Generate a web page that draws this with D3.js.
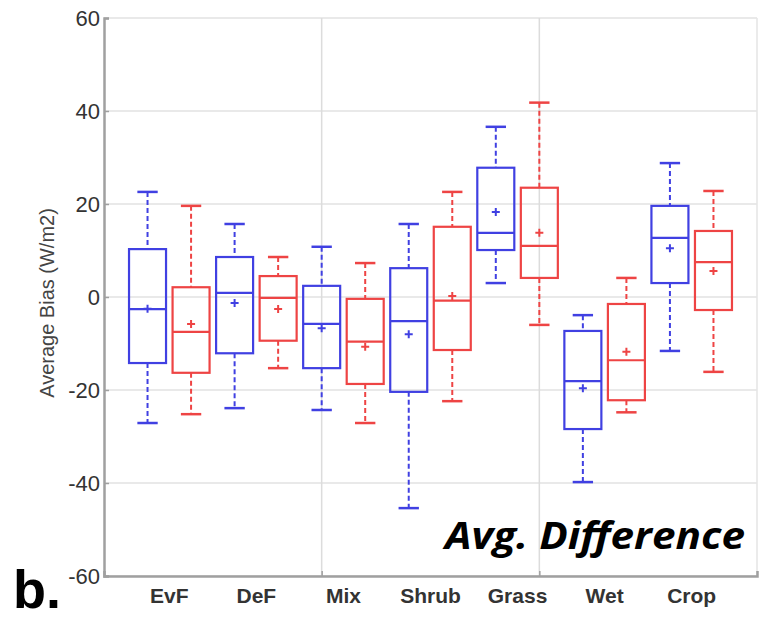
<!DOCTYPE html>
<html>
<head>
<meta charset="utf-8">
<script src="https://cdnjs.cloudflare.com/ajax/libs/d3/7.8.5/d3.min.js"></script>
<style>
  body { margin: 0; background: #fff; }
  svg { display: block; }
</style>
</head>
<body>
<svg id="chart" width="769" height="620"></svg>
<script>
// land cover classes, each has a blue and a red box
const categories = ['EvF', 'DeF', 'Mix', 'Shrub', 'Grass', 'Wet', 'Crop'];
const yTicks = [-60, -40, -20, 0, 20, 40, 60];

// blue series
const blueHi     = [22.6, 15.7, 10.8, 15.7, 36.6, -3.9, 28.8];
const blueQ3     = [10.3, 8.6, 2.4, 6.2, 27.8, -7.3, 19.6];
const blueMedian = [-2.6, 0.9, -5.8, -5.2, 13.8, -18.1, 12.7];
const blueQ1     = [-14.2, -12.1, -15.3, -20.4, 10.1, -28.4, 3.0];
const blueLo     = [-27.1, -23.9, -24.3, -45.4, 3.0, -39.8, -11.6];
const blueMean   = [-2.5, -1.3, -6.7, -8.0, 18.3, -19.6, 10.5];

// red series
const redHi     = [19.6, 8.6, 7.3, 22.6, 41.8, 4.1, 22.8];
const redQ3     = [2.1, 4.5, -0.4, 15.1, 23.5, -1.5, 14.2];
const redMedian = [-7.5, -0.2, -9.6, -0.8, 11.0, -13.6, 7.5];
const redQ1     = [-16.3, -9.4, -18.7, -11.4, 4.1, -22.2, -2.8];
const redLo     = [-25.2, -15.3, -27.1, -22.4, -6.0, -24.8, -16.1];
const redMean   = [-5.8, -2.6, -10.7, 0.2, 13.8, -11.8, 5.6];

const blue = '#4040e2';
const red = '#ee4444';

const svg = d3.select('#chart');
const plotLeft = 104, plotRight = 757, plotTop = 18, plotBottom = 576;

const x = d3.scaleLinear().domain([0, 15]).range([plotLeft, plotRight]);
const y = d3.scaleLinear().domain([-60, 60]).range([plotBottom, plotTop]);

function series(color, offset, hi, q3, med, q1, lo, mean) {
  return categories.map((c, i) => ({
    color, pos: i * 2 + offset,
    hi: hi[i], q3: q3[i], med: med[i], q1: q1[i], lo: lo[i], mean: mean[i]
  }));
}
const boxes = series(blue, 1, blueHi, blueQ3, blueMedian, blueQ1, blueLo, blueMean)
  .concat(series(red, 2, redHi, redQ3, redMedian, redQ1, redLo, redMean));

// grid
const grid = svg.append('g');
grid.selectAll('.hg')
  .data(yTicks)
  .enter().append('line')
  .attr('x1', plotLeft).attr('x2', plotRight)
  .attr('y1', d => y(d)).attr('y2', d => y(d))
  .attr('stroke', '#e2e2e2').attr('stroke-width', 1.5);
grid.selectAll('.vg')
  .data([5, 10])
  .enter().append('line')
  .attr('x1', d => x(d)).attr('x2', d => x(d))
  .attr('y1', plotTop).attr('y2', plotBottom)
  .attr('stroke', '#dcdcdc').attr('stroke-width', 1.5);
grid.append('line')
  .attr('x1', plotRight).attr('x2', plotRight).attr('y1', plotTop).attr('y2', plotBottom)
  .attr('stroke', '#e4e4e4').attr('stroke-width', 1.5);

// axes
const yAxis = svg.append('g')
  .attr('transform', `translate(${plotLeft},0)`)
  .call(d3.axisLeft(y).tickValues(yTicks).tickSize(-5).tickPadding(4)
    .tickFormat(d => String(d)));
yAxis.select('.domain').attr('stroke', '#a0a0a0').attr('stroke-width', 2.5);
yAxis.selectAll('.tick line').attr('stroke', '#a0a0a0').attr('stroke-width', 1.5);
yAxis.selectAll('.tick text')
  .attr('font-family', 'Liberation Sans, Arial, sans-serif')
  .attr('font-size', 22)
  .attr('fill', '#333');

const xAxis = svg.append('g')
  .attr('transform', `translate(0,${plotBottom})`)
  .call(d3.axisBottom(x).tickValues([5, 10]).tickSize(-5).tickFormat(''));
xAxis.select('.domain').attr('stroke', '#a0a0a0').attr('stroke-width', 2.5);
xAxis.selectAll('.tick line').attr('stroke', '#a0a0a0').attr('stroke-width', 1.5);

svg.append('g').selectAll('text')
  .data(categories)
  .enter().append('text')
  .attr('x', (d, i) => x(i * 2 + 1.5))
  .attr('y', 603)
  .attr('text-anchor', 'middle')
  .attr('font-family', 'Liberation Sans, Arial, sans-serif')
  .attr('font-weight', 'bold')
  .attr('font-size', 21)
  .attr('fill', '#333')
  .text(d => d);

// y label
svg.append('text')
  .attr('transform', 'translate(54,303) rotate(-90)')
  .attr('text-anchor', 'middle')
  .attr('font-family', 'Liberation Sans, Arial, sans-serif')
  .attr('font-size', 20)
  .attr('fill', '#444')
  .text('Average Bias (W/m2)');

// boxes
const boxW = (x(1) - x(0)) * 0.85;
const capW = boxW * 0.55;
const g = svg.append('g').selectAll('g')
  .data(boxes)
  .enter().append('g')
  .attr('stroke', d => d.color)
  .attr('fill', 'none');

g.append('line')
  .attr('x1', d => x(d.pos)).attr('x2', d => x(d.pos))
  .attr('y1', d => y(d.hi)).attr('y2', d => y(d.q3))
  .attr('stroke-width', 2).attr('stroke-dasharray', '5,3');
g.append('line')
  .attr('x1', d => x(d.pos)).attr('x2', d => x(d.pos))
  .attr('y1', d => y(d.q1)).attr('y2', d => y(d.lo))
  .attr('stroke-width', 2).attr('stroke-dasharray', '5,3');
g.append('line')
  .attr('x1', d => x(d.pos) - capW / 2).attr('x2', d => x(d.pos) + capW / 2)
  .attr('y1', d => y(d.hi)).attr('y2', d => y(d.hi))
  .attr('stroke-width', 2.5);
g.append('line')
  .attr('x1', d => x(d.pos) - capW / 2).attr('x2', d => x(d.pos) + capW / 2)
  .attr('y1', d => y(d.lo)).attr('y2', d => y(d.lo))
  .attr('stroke-width', 2.5);
g.append('rect')
  .attr('x', d => x(d.pos) - boxW / 2)
  .attr('width', boxW)
  .attr('y', d => y(d.q3))
  .attr('height', d => y(d.q1) - y(d.q3))
  .attr('stroke-width', 2.2);
g.append('line')
  .attr('x1', d => x(d.pos) - boxW / 2).attr('x2', d => x(d.pos) + boxW / 2)
  .attr('y1', d => y(d.med)).attr('y2', d => y(d.med))
  .attr('stroke-width', 2.2);
// mean marker
g.append('path')
  .attr('d', d => {
    const cx = x(d.pos), cy = y(d.mean);
    return `M${cx - 4},${cy}H${cx + 4}M${cx},${cy - 4}V${cy + 4}`;
  })
  .attr('stroke-width', 2);

// panel annotations
svg.append('text')
  .attr('x', 445).attr('y', 549)
  .attr('textLength', 300)
  .attr('lengthAdjust', 'spacingAndGlyphs')
  .attr('font-family', 'Open Sans, sans-serif')
  .attr('font-weight', 'bold')
  .attr('font-style', 'italic')
  .attr('font-size', 38)
  .attr('fill', '#000')
  .text('Avg. Difference');

svg.append('text')
  .attr('x', 13).attr('y', 608)
  .attr('font-family', 'Liberation Sans, Arial, sans-serif')
  .attr('font-weight', 'bold')
  .attr('font-size', 54)
  .attr('fill', '#000')
  .text('b.');
</script>
</body>
</html>
